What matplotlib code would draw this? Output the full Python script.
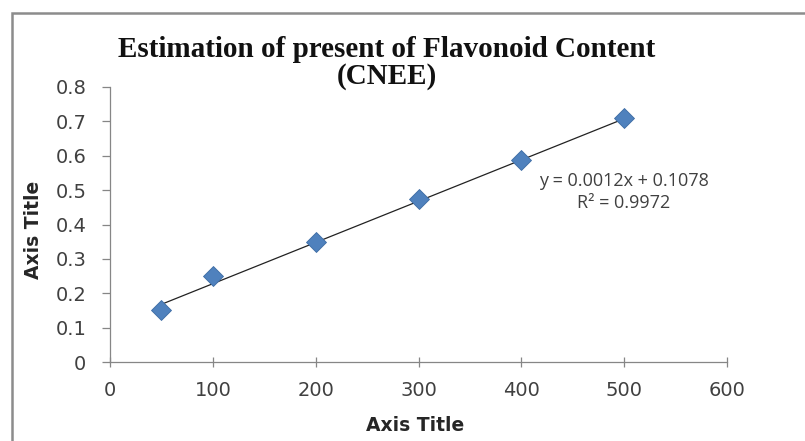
import matplotlib
matplotlib.use("Agg")
import matplotlib.pyplot as plt
from matplotlib.patches import Rectangle
import numpy as np

x_vals = [50, 100, 200, 300, 400, 500]
y_vals = [0.151, 0.250, 0.349, 0.474, 0.588, 0.709]
slope = 0.0012
intercept = 0.1078
r_squared = 0.9972
x_ticks = [0, 100, 200, 300, 400, 500, 600]
y_ticks = [0, 0.1, 0.2, 0.3, 0.4, 0.5, 0.6, 0.7, 0.8]
title = "Estimation of present of Flavonoid Content\n(CNEE)"

fig = plt.figure(figsize=(8.05, 4.41), dpi=100)
fig.patch.set_facecolor("white")
# outer chart frame (extends beyond right/bottom edges)
fig.patches.append(Rectangle((12/805, -0.1), 1.2, 1 - 13/441 + 0.1,
                             transform=fig.transFigure, fill=False,
                             edgecolor="#8c8c8c", linewidth=1.8))

ax = fig.add_axes([110/805, 1 - 362/441, (727 - 110)/805, (362 - 87)/441])
ax.set_xlim(0, 600)
ax.set_ylim(0, 0.8)

tx = np.array([x_vals[0], x_vals[-1]])
ax.plot(tx, slope * tx + intercept, color="#222222", linewidth=0.9, zorder=2)
ax.plot(x_vals, y_vals, linestyle="none", marker="D", markersize=10.5,
        markerfacecolor="#4F81BD", markeredgecolor="#3d6ba3", markeredgewidth=0.6, zorder=3)

ax.set_xticks(x_ticks)
ax.set_yticks(y_ticks)
ax.set_xticklabels([str(v) for v in x_ticks])
ax.set_yticklabels(["0"] + [f"{v:.1f}" for v in y_ticks[1:]])
for s in ["top", "right"]:
    ax.spines[s].set_visible(False)
for s in ["left", "bottom"]:
    ax.spines[s].set_color("#868686")
    ax.spines[s].set_linewidth(0.9)
ax.tick_params(axis="both", colors="#868686", labelcolor="#404040", labelsize=14,
               width=0.9)
ax.tick_params(axis="x", direction="inout", length=7, pad=10)
ax.tick_params(axis="y", direction="out", length=6, pad=11)
for lab in ax.get_xticklabels() + ax.get_yticklabels():
    lab.set_fontfamily("DejaVu Sans")

ax.set_xlabel("Axis Title", fontsize=13.5, fontweight="bold", family="DejaVu Sans",
              color="#262626")
ax.set_ylabel("Axis Title", fontsize=13.5, fontweight="bold", family="DejaVu Sans",
              color="#262626")
ax.xaxis.set_label_coords((415 - 110) / 617, (362 - 416) / 275)
ax.yaxis.set_label_coords((43 - 110) / 617, (362 - 230) / 275)

fig.text(387/805, 1 - 63/441, title, ha="center", va="center", fontsize=21,
         fontweight="bold", family="Liberation Serif", color="#111111", linespacing=0.98)

fig.text(624/805, 1 - 192/441, f"y = {slope}x + {intercept}\nR² = {r_squared}",
         ha="center", va="center", fontsize=13, family="Open Sans", color="#404040",
         linespacing=1.3, multialignment="center")

fig.savefig("out.png", dpi=100)
